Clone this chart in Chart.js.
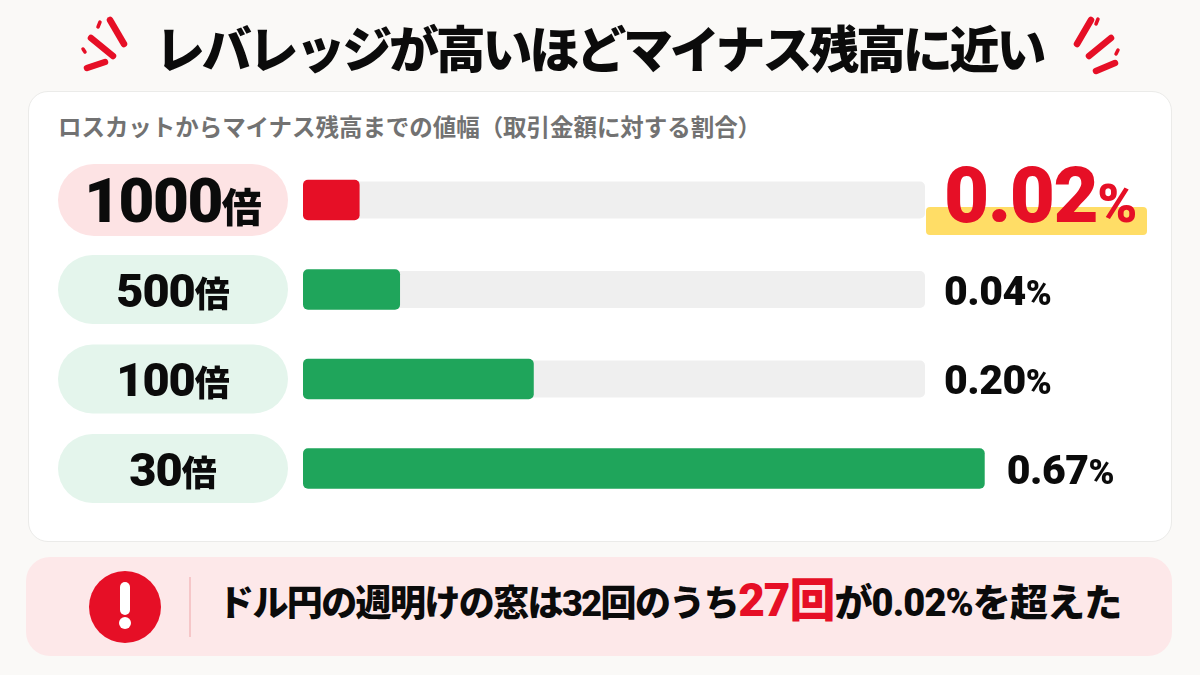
<!DOCTYPE html>
<html lang="ja">
<head>
<meta charset="utf-8">
<script src="https://cdn.jsdelivr.net/npm/chart.js@4"></script>
<style>
html,body{margin:0;padding:0;width:1200px;height:675px;overflow:hidden;background:#faf9f7;font-family:"Noto Sans CJK JP","Noto Sans",sans-serif;}
.abs{position:absolute;white-space:nowrap;}
#card{left:28px;top:91px;width:1142px;height:449px;background:#fff;border:1.5px solid #ebebe9;border-radius:20px;box-sizing:content-box;}
#title{left:155px;top:10px;font-size:50px;line-height:72px;font-weight:900;color:#0b0b0b;letter-spacing:-3.2px;}
#subtitle{left:58px;top:109px;font-size:23.5px;line-height:34px;font-weight:700;color:#727272;letter-spacing:-0.05px;}
#callout{left:26px;top:557px;width:1146px;height:99px;background:#fde8e9;border-radius:24px;}
#divider{left:189px;top:577px;width:2px;height:60px;background:#f6c6c8;}
#note{left:218px;top:570px;font-family:Roboto,"Noto Sans CJK JP",sans-serif;font-size:36px;line-height:60px;font-weight:900;color:#0b0b0b;letter-spacing:-1.6px;}
#note .hot{color:#e60f26;font-size:46px;letter-spacing:-1px;}
#note .tail{font-size:38px;letter-spacing:-0.9px;}
svg{position:absolute;left:0;top:0;}
canvas{position:absolute;left:0;top:0;}
</style>
</head>
<body>
<div class="abs" id="card"></div>
<div class="abs" id="callout"></div>
<div class="abs" id="divider"></div>
<svg width="1200" height="675" stroke="#e60f26" stroke-linecap="round" fill="none">
  <g stroke-width="6.5">
    <line x1="110" y1="20" x2="124" y2="44"/><line x1="91" y1="38" x2="113" y2="56"/><line x1="87" y1="68" x2="105" y2="62" />
    <line x1="1091" y1="20" x2="1077" y2="44"/><line x1="1111" y1="38" x2="1089" y2="56"/><line x1="1115" y1="63" x2="1096" y2="71"/>
  </g>
  <g stroke-width="3.5">
    <line x1="100" y1="22" x2="98" y2="27"/><line x1="83" y1="49" x2="85" y2="52"/>
    <line x1="1098" y1="19" x2="1096" y2="24"/><line x1="1118" y1="50" x2="1116" y2="54"/>
  </g>
  <circle cx="125" cy="607" r="36" fill="#e60f26" stroke="none"/>
  <line x1="125" y1="587" x2="125" y2="610" stroke="#fff" stroke-width="10"/>
  <circle cx="125" cy="623" r="6" fill="#fff" stroke="none"/>
</svg>
<div class="abs" id="title">レバレッジが高いほどマイナス残高に近い</div>
<div class="abs" id="subtitle">ロスカットからマイナス残高までの値幅（取引金額に対する割合）</div>
<div class="abs" id="note">ドル円の週明けの窓は32回のうち<span class="hot">27回</span><span class="tail">が0.02%を超えた</span></div>
<canvas id="c" width="1200" height="675"></canvas>
<script>
const categories = ['1000倍', '500倍', '100倍', '30倍'];
// Printed rates, used for the value labels.
const rates = [0.02, 0.04, 0.20, 0.67];
// The reference's bars are not to scale with the printed rates:
// these are the bar lengths as drawn, in % of the gray track.
const barLengths = [9.1, 15.6, 37.1, 109.6];
const trackLengths = [100, 100, 100, 100];

const FONT = 'Roboto,"Noto Sans CJK JP",sans-serif';
const RED = '#e60f26', GREEN = '#1fa55b', INK = '#0b0b0b';

function roundRect(ctx, x, y, w, h, r, fill) {
  ctx.beginPath();
  ctx.roundRect(x, y, w, h, r);
  ctx.fillStyle = fill;
  ctx.fill();
}
function run(ctx, text, x, y, size, color, spacing) {
  ctx.font = `900 ${size}px ${FONT}`;
  ctx.letterSpacing = (spacing || 0) + 'px';
  ctx.fillStyle = color;
  ctx.fillText(text, x, y);
  return ctx.measureText(text).width;
}

const rowDecor = {
  id: 'rowDecor',
  beforeDatasetsDraw(chart) {
    const { ctx, scales: { y } } = chart;
    ctx.save();
    categories.forEach((c, i) => {
      const cy = y.getPixelForValue(i);
      const h = i === 0 ? 72 : 69;
      roundRect(ctx, 58, cy - h / 2, 230, h, h / 2, i === 0 ? '#fde3e4' : '#e4f5ec');
    });
    ctx.restore();
  },
  afterDatasetsDraw(chart) {
    const { ctx, scales: { x, y } } = chart;
    ctx.save();
    ctx.textBaseline = 'alphabetic';
    categories.forEach((c, i) => {
      const cy = y.getPixelForValue(i);
      const num = c.replace('倍', '');
      const big = i === 0;
      const numSize = big ? 62 : 47, unitSize = big ? 40 : 35;
      const sp = big ? -1.5 : -1;
      ctx.font = `900 ${numSize}px ${FONT}`;
      ctx.letterSpacing = sp + 'px';
      const w1 = ctx.measureText(num).width;
      ctx.font = `900 ${unitSize}px ${FONT}`;
      ctx.letterSpacing = '0px';
      const w2 = ctx.measureText('倍').width;
      const sx = 173 - (w1 + w2) / 2;
      const base = cy + (big ? 22 : 17);
      run(ctx, num, sx, base, numSize, INK, sp);
      run(ctx, '倍', sx + w1, base, unitSize, INK, 0);

      const end = Math.max(x.getPixelForValue(barLengths[i]), x.getPixelForValue(trackLengths[i]));
      const vx = end + (i === 3 ? 22 : 19);
      const txt = rates[i].toFixed(2);
      if (big) {
        roundRect(ctx, 926, cy + 7, 221, 28, 4, '#ffdd66');
        const w = run(ctx, txt, vx, cy + 22, 78, RED, -1.5);
        run(ctx, '%', vx + w, cy + 22, 54, RED, -1);
      } else {
        const w = run(ctx, txt, vx, cy + 15, 41, INK, -0.5);
        run(ctx, '%', vx + w, cy + 15, 35, INK, -0.5);
      }
    });
    ctx.restore();
  }
};

new Chart(document.getElementById('c'), {
  type: 'bar',
  plugins: [rowDecor],
  data: {
    labels: categories,
    datasets: [
      {
        label: '値幅',
        data: barLengths,
        backgroundColor: [RED, GREEN, GREEN, GREEN],
        borderRadius: 5,
        borderSkipped: false,
        barPercentage: 0.45,
        categoryPercentage: 1,
        order: 1
      },
      {
        label: 'トラック',
        data: trackLengths,
        backgroundColor: '#efefef',
        borderRadius: 5,
        borderSkipped: false,
        barPercentage: 0.415,
        categoryPercentage: 1,
        order: 2
      }
    ]
  },
  options: {
    indexAxis: 'y',
    responsive: false,
    animation: false,
    events: [],
    layout: { padding: { left: 303, right: 88.4, top: 155.25, bottom: 161.75 } },
    datasets: { bar: { grouped: false } },
    plugins: { legend: { display: false }, tooltip: { enabled: false }, title: { display: false } },
    scales: {
      x: { type: 'linear', min: 0, max: 130, display: false },
      y: { type: 'category', display: false }
    }
  }
});
</script>
</body>
</html>
